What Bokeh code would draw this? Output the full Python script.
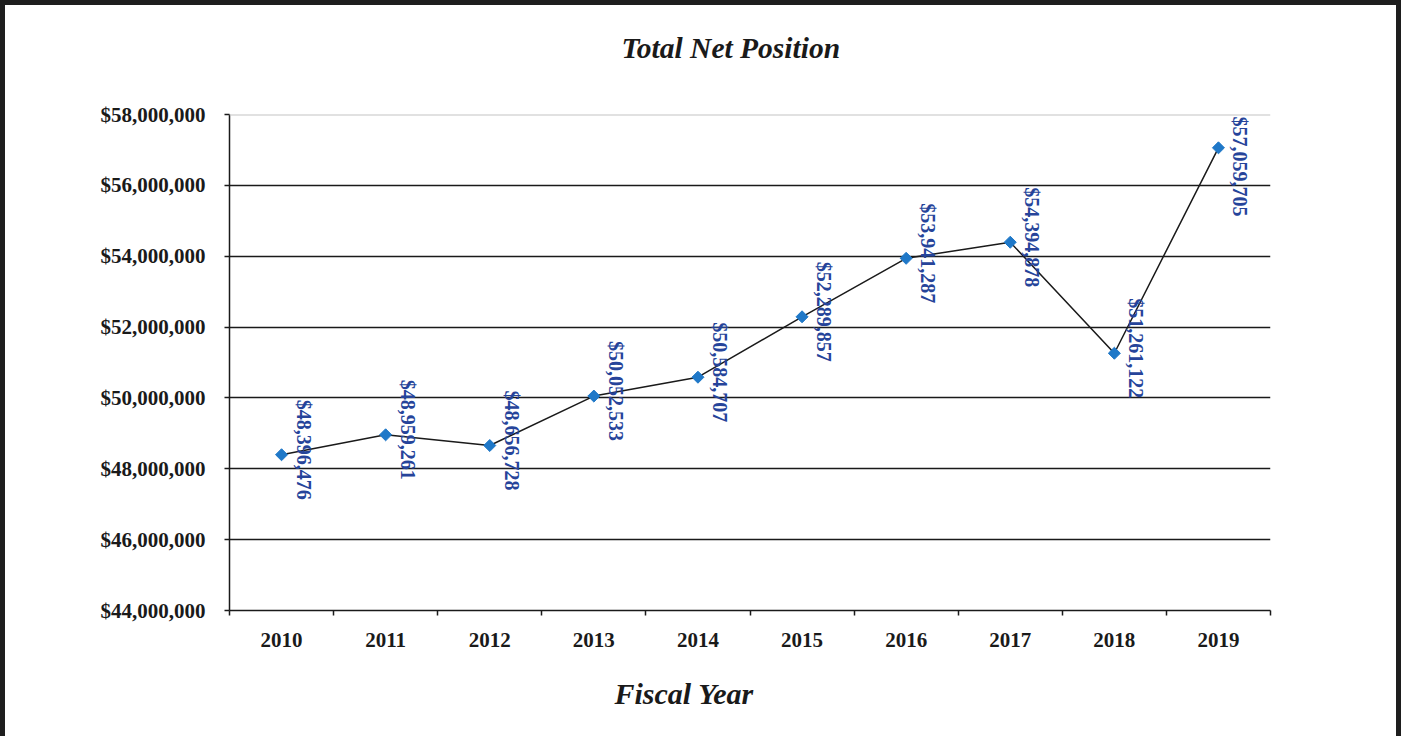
import math
from bokeh.plotting import figure
from bokeh.models import ColumnDataSource, FixedTicker, NumeralTickFormatter, Span, Title
from bokeh.layouts import column
from bokeh.embed import file_html
from bokeh.resources import INLINE
from bokeh.core.properties import value

# ---- data ----
years = ["2010", "2011", "2012", "2013", "2014", "2015", "2016", "2017", "2018", "2019"]
net_position = [48396476, 48959261, 48656728, 50052533, 50584707,
                52289857, 53941287, 54394878, 51261122, 57059705]
y_ticks = [44000000, 46000000, 48000000, 50000000, 52000000, 54000000, 56000000, 58000000]
chart_title = "Total Net Position"
x_title = "Fiscal Year"

FONT = "Liberation Serif"
INK = "#1a1a1a"

W, H = 1391, 731
OX, OY = 13, 13          # figure origin on the page (margin + border)
FL, FR, FT, FB = 237, 1278, 122, 618   # frame edges on page
fw, fh = FR - FL, FB - FT

xs = [i + 0.5 for i in range(len(years))]
labels = ["${:,}".format(v) for v in net_position]
# keep rotated labels inside the plot area (label half length ~50px)
ymin, ymax = y_ticks[0], y_ticks[-1]
py = [(ymax - v) / (ymax - ymin) * fh for v in net_position]
yoff = [max(-5.0, 52 - v) for v in py]
src = ColumnDataSource(dict(x=xs, y=net_position, label=labels, yoff=yoff))

p = figure(width=W, height=H,
           x_range=(0, len(years)), y_range=(ymin, ymax),
           output_backend="svg", toolbar_location=None,
           min_border_left=FL - OX, min_border_right=OX + W - FR,
           min_border_top=FT - OY, min_border_bottom=OY + H - FB)
p.outline_line_color = None
p.background_fill_color = "white"
p.border_fill_color = "white"
p.title.text = ""

# title (spacer keeps the title clear of the plot area)
spacer = Title(text=" ", text_font_size="1px", standoff=43)
p.add_layout(spacer, "above")
main_title = Title(text=chart_title, align="left", offset=629 - FL, standoff=10,
                   text_font=FONT, text_font_style="bold italic",
                   text_font_size="29.5px", text_color=INK)
p.add_layout(main_title, "above")

# x axis
p.xaxis.ticker = FixedTicker(ticks=xs, minor_ticks=list(range(len(years) + 1)))
p.xaxis.major_label_overrides = {x: y for x, y in zip(xs, years)}
p.xaxis.major_tick_out = 0
p.xaxis.major_tick_in = 0
p.xaxis.minor_tick_out = 5
p.xaxis.minor_tick_in = 0
p.xaxis.minor_tick_line_color = INK
p.xaxis.minor_tick_line_width = 1.5
p.xaxis.axis_line_color = INK
p.xaxis.axis_line_width = 1.5
p.xaxis.major_label_standoff = 17
p.xaxis.major_label_text_font = FONT
p.xaxis.major_label_text_font_style = "bold"
p.xaxis.major_label_text_font_size = "21px"
p.xaxis.major_label_text_color = INK

xt = Title(text=x_title, align="left", offset=622 - FL, standoff=51,
           text_font=FONT, text_font_style="bold italic", text_font_size="30px",
           text_color=INK)
p.add_layout(xt, "below")

# y axis
p.yaxis.ticker = FixedTicker(ticks=y_ticks)
p.yaxis.formatter = NumeralTickFormatter(format="$0,0")
p.yaxis.major_tick_out = 5
p.yaxis.major_tick_in = 0
p.yaxis.minor_tick_line_color = None
p.yaxis.major_tick_line_color = INK
p.yaxis.major_tick_line_width = 1.5
p.yaxis.axis_line_color = INK
p.yaxis.axis_line_width = 1.5
p.yaxis.major_label_standoff = 19
p.yaxis.major_label_text_font = FONT
p.yaxis.major_label_text_font_style = "bold"
p.yaxis.major_label_text_font_size = "21px"
p.yaxis.major_label_text_color = INK

# grid
p.xgrid.visible = False
p.ygrid.ticker = FixedTicker(ticks=y_ticks[1:-1])
p.ygrid.grid_line_color = INK
p.ygrid.grid_line_width = 1.5
p.add_layout(Span(location=y_ticks[-1], dimension="width", line_color="#c4c4c4", line_width=2))

# series
p.line("x", "y", source=src, line_color=INK, line_width=1.5)
p.scatter("x", "y", source=src, marker="square", angle=math.pi / 4, size=8.5,
          fill_color="#1F78C8", line_color="#1F78C8")
p.text("x", "y", text="label", source=src, angle=-math.pi / 2,
       text_align="center", text_baseline="middle", x_offset=22, y_offset="yoff",
       text_font=value(FONT), text_font_style="bold", text_font_size="20px",
       text_color="#26449A")

layout = column(p, styles={"border-top": "5px solid #1e1e1e",
                           "border-left": "5px solid #1e1e1e",
                           "border-right": "5px solid #1e1e1e"})

open("out.html", "w").write(file_html(layout, INLINE))
